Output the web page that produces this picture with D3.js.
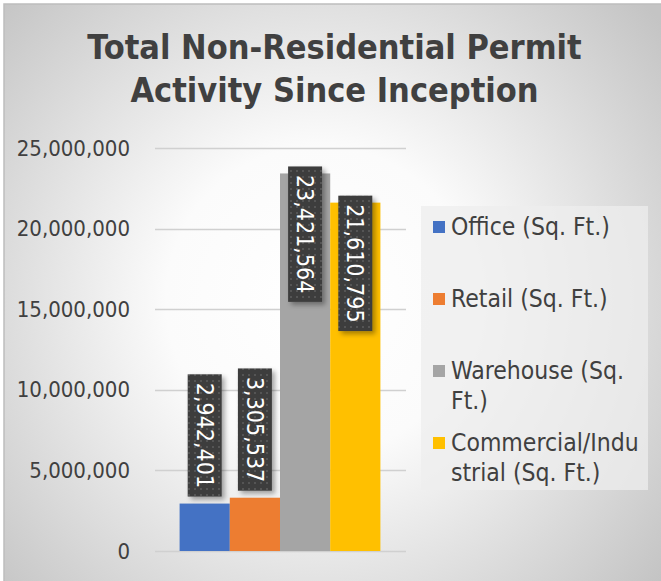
<!DOCTYPE html>
<html>
<head>
<meta charset="utf-8">
<script src="https://cdn.jsdelivr.net/npm/d3@7"></script>
<style>
  html, body { margin: 0; padding: 0; background: #fff; }
  svg { display: block; }
  text { font-family: "DejaVu Sans Condensed", "DejaVu Sans", sans-serif; }
</style>
</head>
<body>
<div id="chart"></div>
<script>
const categories = ["Office (Sq. Ft.)", "Retail (Sq. Ft.)", "Warehouse (Sq. Ft.)", "Commercial/Industrial (Sq. Ft.)"];
const values = [2942401, 3305537, 23421564, 21610795];
const colors = ["#4472c4", "#ed7d31", "#a5a5a5", "#ffc000"];
const legendLines = [["Office (Sq. Ft.)"], ["Retail (Sq. Ft.)"], ["Warehouse (Sq.", "Ft.)"], ["Commercial/Indu", "strial (Sq. Ft.)"]];
const yTicks = [0, 5000000, 10000000, 15000000, 20000000, 25000000];
const titleLines = ["Total Non-Residential Permit", "Activity Since Inception"];

const width = 661, height = 581;
const fmt = d3.format(",");

const svg = d3.select("#chart").append("svg")
  .attr("width", width)
  .attr("height", height);

const defs = svg.append("defs");

const bg = defs.append("radialGradient")
  .attr("id", "bg")
  .attr("gradientUnits", "userSpaceOnUse")
  .attr("cx", 320).attr("cy", 300).attr("r", 440);
bg.append("stop").attr("offset", "0%").attr("stop-color", "#ffffff");
bg.append("stop").attr("offset", "35%").attr("stop-color", "#fbfbfb");
bg.append("stop").attr("offset", "100%").attr("stop-color", "#c4c4c4");

const dots = defs.append("pattern")
  .attr("id", "dots")
  .attr("patternUnits", "userSpaceOnUse")
  .attr("width", 6).attr("height", 6);
dots.append("rect").attr("width", 6).attr("height", 6).attr("fill", "#3d3d3d");
dots.append("rect").attr("x", 2).attr("y", 2).attr("width", 2).attr("height", 2).attr("fill", "#555555");

const shadow = defs.append("filter").attr("id", "shadow")
  .attr("x", "-30%").attr("y", "-30%").attr("width", "160%").attr("height", "160%");
shadow.append("feDropShadow")
  .attr("dx", 3).attr("dy", 3).attr("stdDeviation", 2.5)
  .attr("flood-color", "#000").attr("flood-opacity", 0.35);

// background + frame
svg.append("rect")
  .attr("x", 4).attr("y", 4)
  .attr("width", width + 10).attr("height", height + 10)
  .attr("fill", "url(#bg)")
  .attr("stroke", "#bdbdbd")
  .attr("stroke-width", 1.5);

// title
svg.append("g").selectAll("text")
  .data(titleLines)
  .join("text")
  .attr("x", 334.5)
  .attr("y", (d, i) => 59 + i * 43)
  .attr("text-anchor", "middle")
  .attr("font-size", 34)
  .attr("font-weight", "bold")
  .attr("fill", "#404040")
  .text(d => d);

// scales
const x = d3.scaleBand()
  .domain(categories)
  .range([155, 405])
  .paddingInner(0)
  .paddingOuter(0.49);

const y = d3.scaleLinear()
  .domain([0, 25000000])
  .range([551, 148]);

// gridlines
svg.append("g").selectAll("line")
  .data(yTicks)
  .join("line")
  .attr("x1", 155).attr("x2", 406)
  .attr("y1", d => Math.round(y(d)) + 0.5)
  .attr("y2", d => Math.round(y(d)) + 0.5)
  .attr("stroke", "#d0d0d0")
  .attr("stroke-width", 1.5);

// y axis labels
const yAxis = svg.append("g")
  .attr("transform", "translate(140,0)")
  .call(d3.axisLeft(y).tickValues(yTicks).tickFormat(fmt).tickSize(0).tickPadding(10));
yAxis.select(".domain").remove();
yAxis.selectAll("text")
  .attr("font-family", "DejaVu Sans Condensed, DejaVu Sans, sans-serif")
  .attr("font-size", 22)
  .attr("fill", "#404040");

// bars
svg.append("g").selectAll("rect")
  .data(values)
  .join("rect")
  .attr("x", (d, i) => x(categories[i]))
  .attr("y", d => y(d))
  .attr("width", x.bandwidth())
  .attr("height", d => y(0) - y(d))
  .attr("fill", (d, i) => colors[i]);

// data labels
const lab = svg.append("g").selectAll("g")
  .data(values)
  .join("g");

lab.each(function (d, i) {
  const g = d3.select(this);
  const cx = x(categories[i]) + x.bandwidth() / 2;
  const t = g.append("text")
    .attr("font-size", 23)
    .attr("fill", "#ffffff")
    .attr("dominant-baseline", "central")
    .text(fmt(d));
  const len = t.node().getComputedTextLength();
  const boxH = len + 17, boxW = 34;
  const barH = y(0) - y(d);
  const top = barH > boxH + 20 ? y(d) - 7 : y(d) - 7 - boxH;
  g.insert("rect", "text")
    .attr("x", cx - boxW / 2)
    .attr("y", top)
    .attr("width", boxW)
    .attr("height", boxH)
    .attr("fill", "url(#dots)")
    .attr("filter", "url(#shadow)");
  t.attr("text-anchor", "middle")
    .attr("transform", `translate(${cx},${top + boxH / 2}) rotate(90)`);
});

// legend
const legend = svg.append("g");
legend.append("rect")
  .attr("x", 421).attr("y", 206)
  .attr("width", 227).attr("height", 284)
  .attr("fill", "#eeeeee")
  .attr("fill-opacity", 0.75);

const item = legend.selectAll("g.item")
  .data(legendLines)
  .join("g")
  .attr("class", "item")
  .attr("transform", (d, i) => `translate(433,${221 + i * 72})`);

item.append("rect")
  .attr("width", 12).attr("height", 12)
  .attr("fill", (d, i) => colors[i]);

item.each(function (lines) {
  d3.select(this).selectAll("text")
    .data(lines)
    .join("text")
    .attr("x", 18)
    .attr("y", (d, j) => 14 + j * 30)
    .attr("font-size", 24.5)
    .attr("fill", "#404040")
    .text(d => d);
});
</script>
</body>
</html>
